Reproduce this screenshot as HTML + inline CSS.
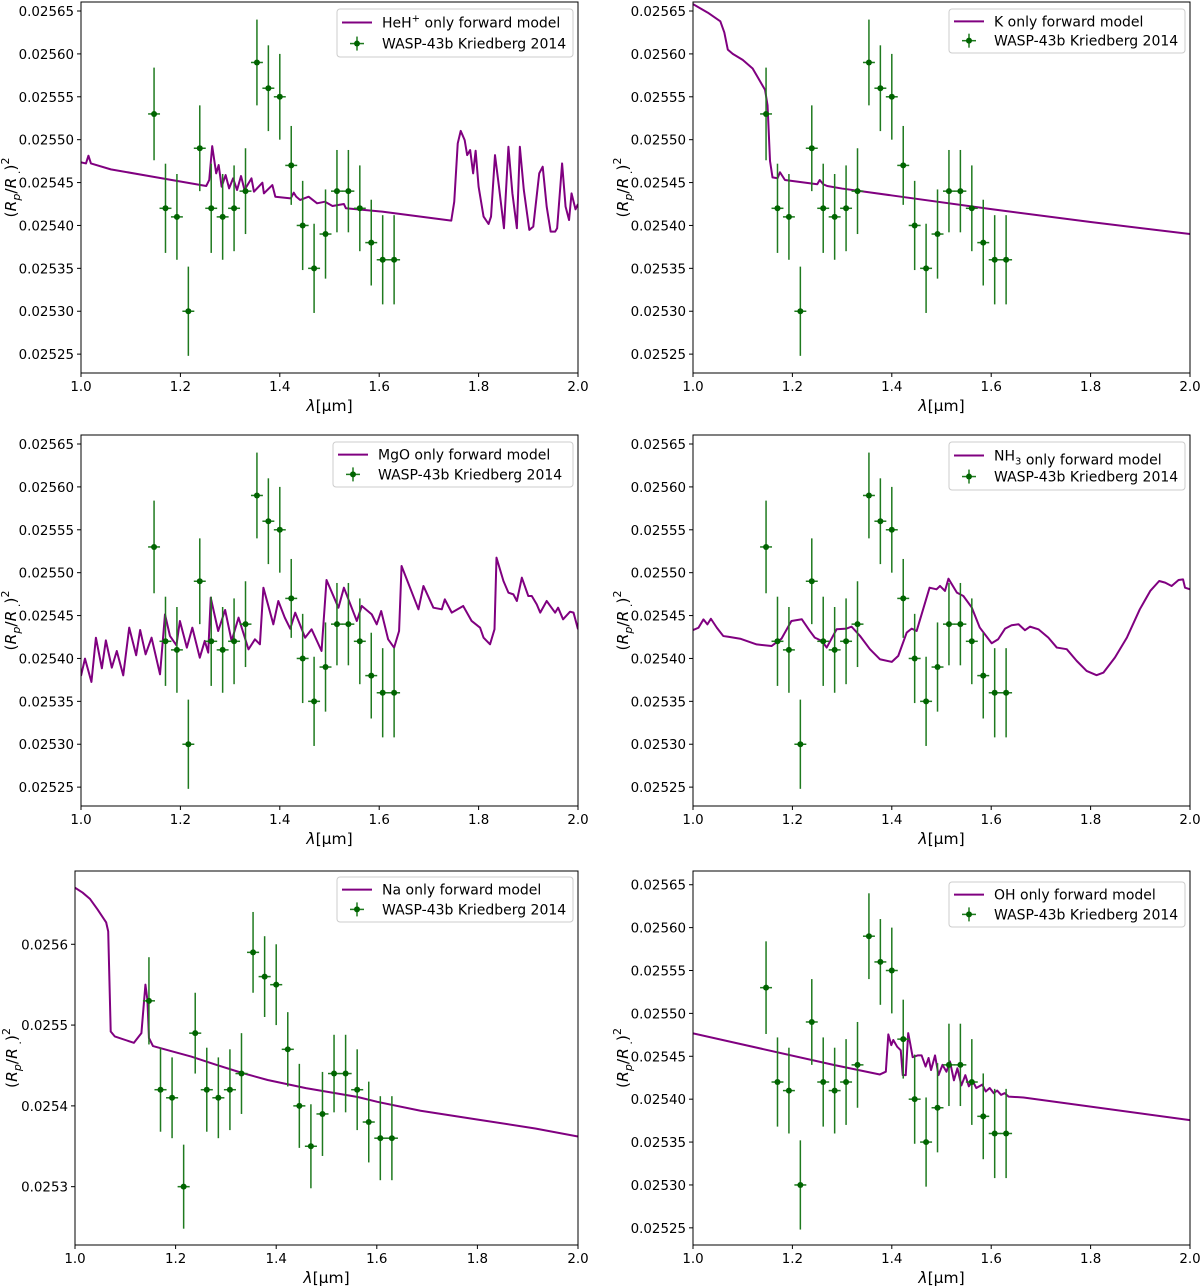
<!DOCTYPE html>
<html><head><meta charset="utf-8"><style>
html,body{margin:0;padding:0;background:#fff;}
svg{display:block;font-family:"DejaVu Sans","Liberation Sans",sans-serif;}
</style></head><body>
<svg id="fig" width="1200" height="1287" viewBox="0 0 1200 1287" xmlns="http://www.w3.org/2000/svg"></svg>
<script>
// Observations (values in units of 1e-5)
const obsLam=[1.147,1.170,1.193,1.216,1.239,1.262,1.285,1.308,1.331,1.354,1.377,1.400,1.423,1.446,1.469,1.492,1.515,1.538,1.561,1.584,1.607,1.630];
const obsVal=[2553,2542,2541,2530,2549,2542,2541,2542,2544,2559,2556,2555,2547,2540,2535,2539,2544,2544,2542,2538,2536,2536];
const obsErr=[5.4,5.2,5,5.2,5,5.2,5,5,5,5,5,5,4.6,5.2,5.2,5.2,4.8,4.8,5,5,5.2,5.2];
const obsXErr=0.012;

const heLam=[1.000,1.010,1.015,1.020,1.060,1.145,1.252,1.258,1.264,1.272,1.277,1.283,1.291,1.298,1.306,1.314,1.322,1.329,1.343,1.348,1.365,1.368,1.385,1.391,1.422,1.428,1.433,1.441,1.458,1.475,1.491,1.506,1.529,1.533,1.606,1.745,1.751,1.758,1.764,1.772,1.777,1.783,1.789,1.794,1.800,1.810,1.820,1.825,1.833,1.841,1.851,1.860,1.868,1.877,1.883,1.891,1.902,1.910,1.922,1.929,1.937,1.945,1.954,1.958,1.968,1.975,1.982,1.987,1.995,2.000];
const heVal=[2547.35,2547.23,2548.13,2547.23,2546.54,2545.68,2544.60,2545.30,2549.25,2546.07,2547.04,2544.52,2545.88,2544.32,2545.49,2544.13,2545.76,2544.13,2545.49,2543.94,2544.98,2543.74,2544.71,2543.35,2543.16,2543.82,2543.36,2542.97,2543.35,2542.58,2542.77,2542.27,2542.50,2542.00,2541.61,2540.56,2542.77,2549.56,2551.03,2549.95,2548.20,2548.79,2546.07,2548.71,2544.52,2541.03,2540.17,2541.03,2548.20,2544.52,2539.67,2549.17,2543.74,2539.67,2549.17,2544.13,2539.48,2539.86,2546.07,2546.85,2542.19,2539.28,2539.28,2539.67,2547.23,2542.19,2540.64,2543.74,2541.88,2542.50];

const kLam=[1.000,1.030,1.055,1.063,1.070,1.080,1.100,1.120,1.130,1.145,1.150,1.155,1.160,1.170,1.175,1.185,1.250,1.255,1.262,1.270,1.300,1.400,1.600,1.800,2.000];
const kVal=[2565.8,2564.8,2563.8,2562.5,2560.5,2560.0,2559.3,2558.3,2557.3,2555.8,2554.0,2547.5,2545.6,2545.5,2546.2,2545.3,2544.8,2545.3,2544.8,2544.6,2544.3,2543.5,2541.9,2540.4,2539.0];

const mgLam=[1.000,1.008,1.021,1.030,1.042,1.050,1.062,1.072,1.085,1.097,1.111,1.119,1.130,1.142,1.159,1.169,1.179,1.192,1.199,1.213,1.224,1.239,1.249,1.256,1.261,1.276,1.290,1.303,1.317,1.337,1.350,1.360,1.367,1.387,1.397,1.410,1.421,1.431,1.451,1.464,1.484,1.494,1.518,1.529,1.555,1.565,1.585,1.595,1.604,1.618,1.630,1.640,1.645,1.679,1.689,1.709,1.726,1.732,1.746,1.769,1.786,1.803,1.810,1.823,1.832,1.836,1.850,1.860,1.870,1.877,1.887,1.900,1.907,1.917,1.924,1.937,1.954,1.960,1.970,1.984,1.991,2.000];
const mgVal=[2537.96,2539.98,2537.26,2542.42,2538.85,2542.11,2538.93,2540.87,2538.03,2543.59,2540.37,2543.32,2540.48,2542.42,2538.15,2545.14,2542.62,2541.53,2544.37,2541.26,2543.59,2540.09,2542.04,2540.68,2547.09,2543.20,2545.65,2542.04,2544.76,2541.06,2542.23,2541.65,2548.25,2543.98,2546.70,2544.76,2543.47,2545.34,2542.42,2543.40,2540.87,2549.15,2545.92,2548.25,2544.37,2546.12,2545.14,2543.98,2545.53,2542.23,2541.26,2543.20,2550.78,2545.73,2548.45,2545.92,2545.73,2546.89,2545.34,2546.12,2544.37,2543.59,2542.42,2541.65,2543.40,2551.75,2549.03,2547.67,2547.47,2546.70,2549.42,2547.28,2547.28,2546.31,2545.34,2546.70,2545.34,2545.92,2544.56,2545.45,2545.34,2543.40];

const nhLam=[1.000,1.011,1.021,1.029,1.036,1.048,1.061,1.071,1.095,1.128,1.158,1.178,1.198,1.219,1.235,1.245,1.259,1.269,1.289,1.309,1.319,1.336,1.356,1.376,1.400,1.413,1.430,1.440,1.450,1.463,1.476,1.490,1.497,1.507,1.514,1.531,1.544,1.561,1.577,1.601,1.614,1.628,1.641,1.655,1.668,1.678,1.695,1.715,1.732,1.752,1.772,1.792,1.812,1.826,1.849,1.873,1.899,1.920,1.938,1.950,1.963,1.977,1.986,1.990,2.000];
const nhVal=[2543.31,2543.58,2544.55,2543.97,2544.63,2543.58,2542.61,2542.53,2542.30,2541.64,2541.45,2542.30,2544.37,2544.57,2543.21,2542.43,2542.05,2541.27,2543.40,2543.48,2543.71,2542.63,2541.08,2539.91,2539.60,2540.30,2543.02,2543.48,2543.21,2545.73,2548.25,2548.06,2548.45,2547.87,2549.30,2547.67,2547.28,2545.93,2543.60,2541.77,2542.24,2543.48,2543.87,2543.99,2543.29,2543.71,2543.40,2542.43,2541.27,2541.08,2539.72,2538.55,2538.05,2538.36,2540.11,2542.43,2545.73,2547.87,2549.03,2548.84,2548.45,2549.15,2549.22,2548.25,2548.06];

const naLam=[1.000,1.015,1.030,1.045,1.062,1.066,1.071,1.079,1.117,1.132,1.140,1.144,1.147,1.155,1.190,1.231,1.280,1.331,1.383,1.459,1.562,1.601,1.687,1.801,1.915,2.000];
const naVal=[2567.0,2566.4,2565.6,2564.3,2562.7,2561.6,2549.2,2548.6,2547.8,2549.0,2555.0,2553.1,2548.4,2547.4,2546.8,2546.1,2545.1,2544.1,2543.2,2542.2,2541.1,2540.5,2539.4,2538.3,2537.2,2536.2];

const ohLam=[1.000,1.285,1.376,1.388,1.393,1.399,1.403,1.411,1.418,1.422,1.428,1.433,1.437,1.442,1.452,1.460,1.468,1.474,1.479,1.487,1.494,1.502,1.510,1.517,1.525,1.532,1.540,1.548,1.555,1.563,1.570,1.582,1.589,1.597,1.605,1.612,1.620,1.627,1.635,1.665,2.000];
const ohVal=[2547.67,2543.97,2542.88,2543.2,2547.55,2546.3,2546.9,2546.1,2545.7,2542.8,2542.8,2547.7,2546.5,2544.9,2545.1,2545.1,2543.8,2544.8,2543.4,2545.1,2542.8,2544.0,2543.2,2544.4,2542.2,2543.6,2541.6,2542.8,2541.5,2542.1,2541.3,2541.7,2540.9,2541.3,2540.7,2541.0,2540.5,2540.7,2540.3,2540.2,2537.55];

const xTicks=[1.0,1.2,1.4,1.6,1.8,2.0];
const yTicksFine=[2525,2530,2535,2540,2545,2550,2555,2560,2565];
const yTicksNa=[2530,2540,2550,2560];

const NS="http://www.w3.org/2000/svg";
const svg=document.getElementById('fig');
function mk(tag,attrs,parent){const e=document.createElementNS(NS,tag);for(const k in attrs)e.setAttribute(k,attrs[k]);(parent||svg).appendChild(e);return e;}

const panels=[
 {name:'heh',L:81,R:578,T:2,B:373,y0:2522.8,y1:2566.05,lam:heLam,val:heVal,ticks:yTicksFine,dec:5,leg:[337,9,573,57],label:'HeH',sup:'+',sub:''},
 {name:'k',L:693,R:1190,T:2,B:373,y0:2522.8,y1:2566.05,lam:kLam,val:kVal,ticks:yTicksFine,dec:5,leg:[949,9,1185,53],label:'K',sup:'',sub:''},
 {name:'mgo',L:81,R:578,T:435,B:806,y0:2522.8,y1:2566.05,lam:mgLam,val:mgVal,ticks:yTicksFine,dec:5,leg:[333,442,573,487],label:'MgO',sup:'',sub:''},
 {name:'nh3',L:693,R:1190,T:435,B:806,y0:2522.8,y1:2566.05,lam:nhLam,val:nhVal,ticks:yTicksFine,dec:5,leg:[949,442,1185,490],label:'NH',sup:'',sub:'3'},
 {name:'na',L:75,R:578,T:871,B:1245,y0:2522.78,y1:2569.07,lam:naLam,val:naVal,ticks:yTicksNa,dec:4,leg:[337,877,573,922],label:'Na',sup:'',sub:''},
 {name:'oh',L:693,R:1190,T:871,B:1245,y0:2523.0,y1:2566.6,lam:ohLam,val:ohVal,ticks:yTicksFine,dec:5,leg:[949,882,1185,927],label:'OH',sup:'',sub:''}
];

panels.forEach(p=>{
 const g=mk('g',{});
 
 
 const sx=l=>p.L+(l-1.0)/(2.0-1.0)*(p.R-p.L);
 const sy=v=>p.B-(v-p.y0)/(p.y1-p.y0)*(p.B-p.T);
 xTicks.forEach(t=>{
  const x=sx(t);
  mk('line',{x1:x,x2:x,y1:p.B,y2:p.B+4,stroke:'#000','stroke-width':1},g);
  const tx=mk('text',{x:x,y:p.B+18,'text-anchor':'middle','font-size':13.4,fill:'#000'},g);
  tx.textContent=t.toFixed(1);
  
  
 });
 p.ticks.forEach(t=>{
  const y=sy(t);
  mk('line',{x1:p.L-4,x2:p.L,y1:y,y2:y,stroke:'#000','stroke-width':1},g);
  const ty=mk('text',{x:p.L-7,y:y+5,'text-anchor':'end','font-size':13.4,fill:'#000'},g);
  ty.textContent=(t*1e-5).toFixed(p.dec);
  
  
 });
 const cp=mk('clipPath',{id:'c'+p.name},g);
 mk('rect',{x:p.L,y:p.T,width:p.R-p.L,height:p.B-p.T},cp);
 let d='';
 p.lam.forEach((l,i)=>{d+=(i?'L':'M')+sx(l).toFixed(2)+','+sy(p.val[i]).toFixed(2);});
 const path=mk('path',{d:d,fill:'none',stroke:'#800080','stroke-width':2,'stroke-linejoin':'round','clip-path':'url(#c'+p.name+')'},g);
 
 
 obsLam.forEach((l,i)=>{
  const x=sx(l),y=sy(obsVal[i]);
  const eb=mk('g',{},g);
  
  
  mk('line',{x1:x,x2:x,y1:sy(obsVal[i]-obsErr[i]),y2:sy(obsVal[i]+obsErr[i]),stroke:'#1f7a1f','stroke-width':1.5},eb);
  mk('line',{x1:sx(l-obsXErr),x2:sx(l+obsXErr),y1:y,y2:y,stroke:'#1f7a1f','stroke-width':1.5},eb);
  mk('circle',{cx:x,cy:y,r:3,fill:'#006400'},eb);
 });
 const fr=mk('rect',{x:p.L,y:p.T,width:p.R-p.L,height:p.B-p.T,fill:'none',stroke:'#000','stroke-width':1},g);
 
 
 const xl=mk('text',{x:(p.L+p.R)/2,y:p.B+38,'text-anchor':'middle','font-size':15.5,fill:'#000'},g);
 
 
 xl.innerHTML='<tspan font-style="italic">λ</tspan>[μm]';
 const cy=(p.T+p.B)/2, lx=p.L-(p.name==='na'?58:65);
 const yl=mk('text',{x:lx,y:cy,'text-anchor':'middle','font-size':15.5,fill:'#000',transform:'rotate(-90 '+lx+' '+cy+')'},g);
 
 
 yl.innerHTML='(<tspan font-style="italic">R</tspan><tspan font-style="italic" font-size="11" dy="4">p</tspan><tspan dy="-4">/</tspan><tspan font-style="italic">R</tspan><tspan font-size="11" dy="4"> .</tspan><tspan dy="-4">)</tspan><tspan font-size="11" dy="-7">2</tspan>';
 const [lx0,ly0,lx1,ly1]=p.leg;
 const lg=mk('g',{},g);
 
 
 mk('rect',{x:lx0,y:ly0,width:lx1-lx0,height:ly1-ly0,rx:3,fill:'#fff','fill-opacity':0.8,stroke:'#ccc','stroke-width':1},lg);
 const r1=ly0+(ly1-ly0)*0.28, r2=ly0+(ly1-ly0)*0.72;
 mk('line',{x1:lx0+5,x2:lx0+35,y1:r1,y2:r1,stroke:'#800080','stroke-width':2},lg);
 const t1=mk('text',{x:lx0+45,y:r1+5,'font-size':14,fill:'#000'},lg);
 
 
 let lab=p.label;
 if(p.sup) lab+='<tspan font-size="10" dy="-6">'+p.sup+'</tspan><tspan dy="6"> </tspan>';
 if(p.sub) lab+='<tspan font-size="10" dy="4">'+p.sub+'</tspan><tspan dy="-4"></tspan>';
 t1.innerHTML=lab+' only forward model';
 const mx=lx0+20;
 mk('line',{x1:mx,x2:mx,y1:r2-7,y2:r2+7,stroke:'#1f7a1f','stroke-width':1.5},lg);
 mk('line',{x1:mx-7,x2:mx+7,y1:r2,y2:r2,stroke:'#1f7a1f','stroke-width':1.5},lg);
 mk('circle',{cx:mx,cy:r2,r:3,fill:'#006400'},lg);
 const t2=mk('text',{x:lx0+45,y:r2+5,'font-size':14,fill:'#000'},lg);
 t2.textContent='WASP-43b Kriedberg 2014';
 
 
});
</script>
</body></html>
